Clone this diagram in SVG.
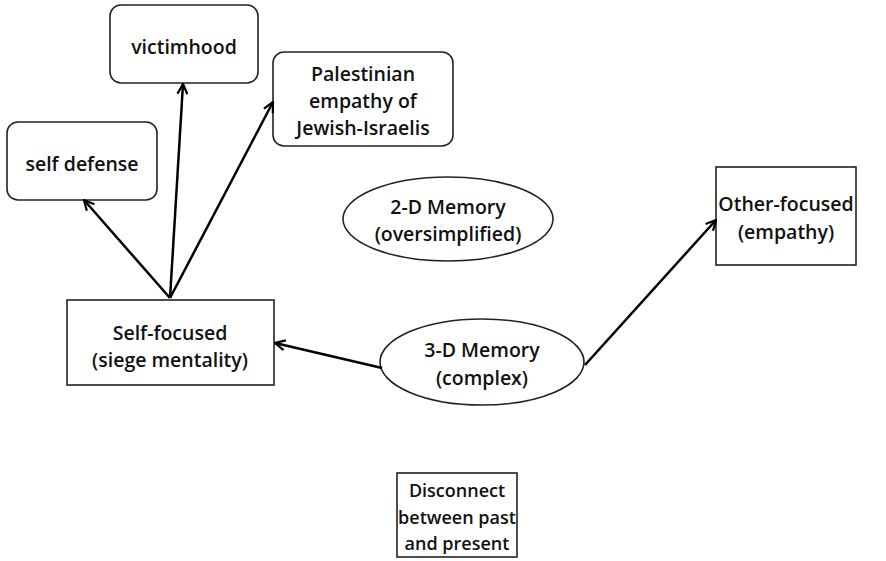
<svg xmlns="http://www.w3.org/2000/svg" width="886" height="561" viewBox="0 0 886 561">
<defs>
<style>
.box{fill:#fff;stroke:#222;stroke-width:1.6}
.t{font-family:"Open Sans","Liberation Sans",sans-serif;font-size:19.5px;font-weight:600;fill:#111;text-anchor:middle}
.s{font-size:18px}
.c{stroke:#000;stroke-width:2.5;fill:none}
</style>
<marker id="ah" viewBox="0 0 12 12" refX="11" refY="6" markerWidth="12" markerHeight="12" markerUnits="userSpaceOnUse" orient="auto">
<path d="M1,1 L11,6 L1,11" fill="none" stroke="#000" stroke-width="2.2"/>
</marker>
</defs>
<rect width="886" height="561" fill="#fff"/>
<g id="victimhood"><rect class="box" x="110" y="5" width="148" height="78" rx="11"/><text class="t" x="184" y="54">victimhood</text></g>
<g id="palestinian"><rect class="box" x="273" y="52" width="180" height="94" rx="11"/><text class="t" x="363" y="81">Palestinian</text><text class="t" x="363" y="108">empathy of</text><text class="t" x="363" y="135">Jewish-Israelis</text></g>
<g id="selfdefense"><rect class="box" x="7" y="122" width="150" height="78" rx="11"/><text class="t" x="82" y="171">self defense</text></g>
<g id="mem2d"><ellipse class="box" cx="448" cy="219" rx="105" ry="42"/><text class="t" x="448" y="214">2-D Memory</text><text class="t" x="448" y="241">(oversimplified)</text></g>
<g id="otherfocused"><rect class="box" x="716" y="167" width="140" height="98"/><text class="t" x="786" y="211">Other-focused</text><text class="t" x="786" y="239">(empathy)</text></g>
<g id="selffocused"><rect class="box" x="67" y="300" width="207" height="85"/><text class="t" x="170" y="340">Self-focused</text><text class="t" x="170" y="367">(siege mentality)</text></g>
<g id="mem3d"><ellipse class="box" cx="482" cy="362" rx="102" ry="43"/><text class="t" x="482" y="357">3-D Memory</text><text class="t" x="482" y="385">(complex)</text></g>
<g id="disconnect"><rect class="box" x="397" y="473" width="120" height="84"/><text class="t s" x="457" y="497">Disconnect</text><text class="t s" x="457" y="524">between past</text><text class="t s" x="457" y="550">and present</text></g>
<g id="connectors">
<line class="c" x1="170" y1="298" x2="84" y2="200" marker-end="url(#ah)"/>
<line class="c" x1="170" y1="298" x2="183" y2="84" marker-end="url(#ah)"/>
<line class="c" x1="170" y1="298" x2="273" y2="102" marker-end="url(#ah)"/>
<line class="c" x1="382" y1="368" x2="275" y2="343" marker-end="url(#ah)"/>
<line class="c" x1="585" y1="365" x2="716" y2="220" marker-end="url(#ah)"/>
</g>
</svg>
